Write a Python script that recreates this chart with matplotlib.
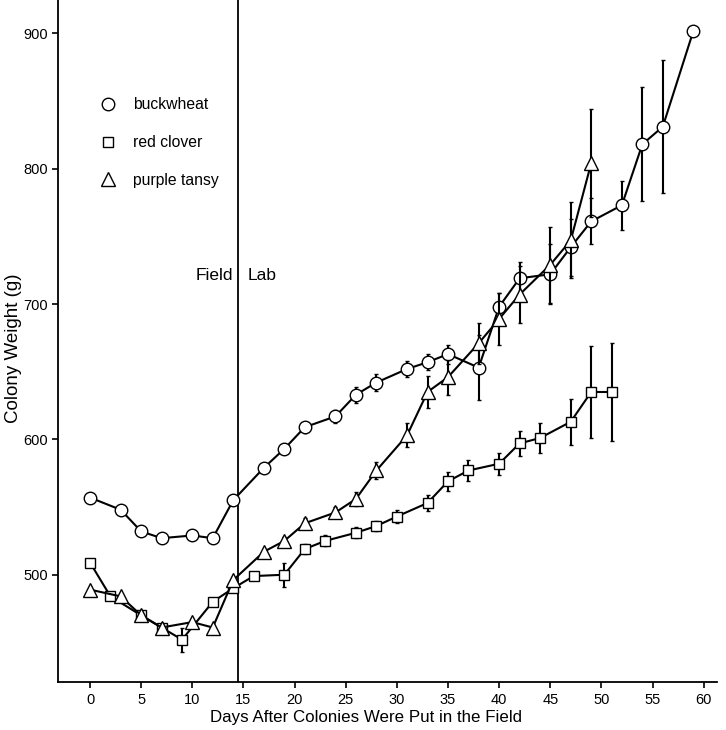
import matplotlib
matplotlib.use("Agg")
import matplotlib.pyplot as plt
from matplotlib.lines import Line2D

plt.rcParams['font.family'] = ['Liberation Sans', 'DejaVu Sans']

# ---- data ----
bw_days = [0, 3, 5, 7, 10, 12, 14, 17, 19, 21, 24, 26, 28, 31, 33, 35, 38, 40, 42, 45, 47, 49, 52, 54, 56, 59]
bw_w = [557, 548, 532, 527, 529, 527, 555, 579, 593, 609, 617, 633, 642, 652, 657, 663, 653, 698, 719, 722, 742, 761, 773, 818, 831, 902]
bw_se = [1, 1, 1, 1, 1, 1, 2, 2, 3, 4, 5, 6, 6, 6, 6, 7, 24, 10, 12, 22, 21, 17, 18, 42, 49, 0]

rc_days = [0, 2, 5, 7, 9, 12, 14, 16, 19, 21, 23, 26, 28, 30, 33, 35, 37, 40, 42, 44, 47, 49, 51]
rc_w = [509, 484, 470, 461, 452, 480, 490, 499, 500, 519, 525, 531, 536, 543, 553, 569, 577, 582, 597, 601, 613, 635, 635]
rc_se = [1, 1, 2, 2, 9, 2, 2, 2, 9, 4, 4, 4, 4, 5, 6, 7, 8, 8, 9, 11, 17, 34, 36]

pt_days = [0, 3, 5, 7, 10, 12, 14, 17, 19, 21, 24, 26, 28, 31, 33, 35, 38, 40, 42, 45, 47, 49]
pt_w = [489, 484, 470, 461, 465, 461, 496, 517, 525, 538, 546, 556, 577, 603, 635, 646, 671, 689, 707, 729, 747, 804]
pt_se = [1, 1, 2, 2, 2, 2, 2, 2, 3, 4, 4, 5, 6, 9, 12, 13, 15, 19, 21, 28, 28, 40]

series_names = ["buckwheat", "red clover", "purple tansy"]
field_day = 14.5
x_ticks = list(range(0, 61, 5))
y_ticks = [500, 600, 700, 800, 900]

fig = plt.figure(figsize=(7.26, 7.30), dpi=100)
ax = fig.add_axes([0.0803, 0.0653, 0.9073, 0.9347])

styles = [
    (bw_days, bw_w, bw_se, 'o', 9.0),
    (rc_days, rc_w, rc_se, 's', 7.8),
    (pt_days, pt_w, pt_se, '^', 10.5),
]
for i, (d, w, se, m, ms) in enumerate(styles):
    ax.errorbar(d, w, yerr=se, fmt='-', marker=m, color='black', lw=1.5,
                ms=ms, mfc='white', mec='black', mew=1.0,
                elinewidth=1.5, capsize=1.5, capthick=1.5, zorder=3 + i)

ax.axvline(field_day, color='black', lw=1.3, zorder=2)
ax.text(field_day - 0.55, 721, "Field", ha='right', va='center', fontsize=12.5)
ax.text(field_day + 0.9, 721, "Lab", ha='left', va='center', fontsize=12.5)

ax.set_xlim(-3.1, 61.3)
ax.set_ylim(420.5, 924.6)
ax.set_xticks(x_ticks)
ax.set_yticks(y_ticks)
ax.tick_params(axis='both', labelsize=10.5, length=4, width=1.2, direction='out')
for s in ['top', 'right']:
    ax.spines[s].set_visible(False)
for s in ['left', 'bottom']:
    ax.spines[s].set_linewidth(1.3)

ax.set_xlabel("Days After Colonies Were Put in the Field", fontsize=12.2)
ax.set_ylabel("Colony Weight (g)", fontsize=13.5)
ax.xaxis.set_label_coords(0.467, -0.041)
ax.yaxis.set_label_coords(-0.055, 0.49)

handles = [
    Line2D([], [], ls='none', marker='o', ms=9.0, mfc='white', mec='black', mew=1.0),
    Line2D([], [], ls='none', marker='s', ms=7.8, mfc='white', mec='black', mew=1.0),
    Line2D([], [], ls='none', marker='^', ms=10.5, mfc='white', mec='black', mew=1.0),
]
ax.legend(handles, series_names, loc='upper left', bbox_to_anchor=(0.04, 0.878),
          frameon=False, fontsize=11.3, labelspacing=1.45, handletextpad=1.0,
          handlelength=1.2)

fig.savefig("out.png", dpi=100)
